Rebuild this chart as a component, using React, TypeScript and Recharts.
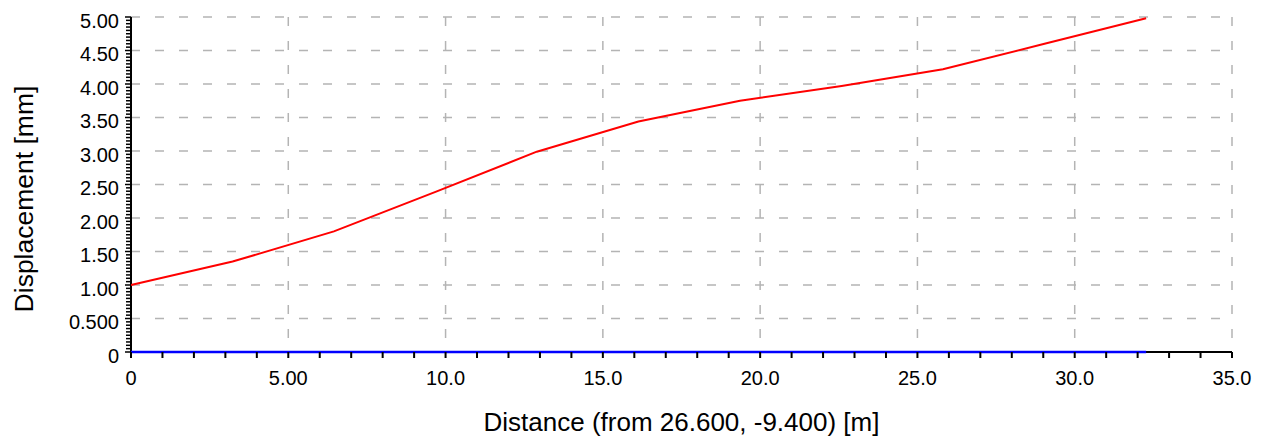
import React from 'react'
import { LineChart, Line, XAxis, YAxis, CartesianGrid, Label } from 'recharts'

const distance = [0, 3.23, 6.45, 9.68, 12.9, 16.13, 19.36, 22.59, 25.81, 29.04, 32.27]
const displacement = [1.0, 1.35, 1.8, 2.39, 2.99, 3.44, 3.75, 3.97, 4.22, 4.6, 4.98]
const reference = [0, 0, 0, 0, 0, 0, 0, 0, 0, 0, 0]

// minor ticks: every 1 m on x, every 0.05 mm on y
const xTicks = Array.from({ length: 36 }, (_, i) => i)
const yTicks = Array.from({ length: 101 }, (_, i) => Math.round(i * 5) / 100)
const xMajor = [0, 5, 10, 15, 20, 25, 30, 35]
const yMajor = [0, 0.5, 1, 1.5, 2, 2.5, 3, 3.5, 4, 4.5, 5]

const data = distance.map((d, i) => ({ x: d, disp: displacement[i], base: reference[i] }))

const FONT = '"Liberation Sans", Arial, sans-serif'

const fmt = (v: number) => (v === 0 ? '0' : v.toPrecision(3))
const isMajor = (v: number, list: number[]) => list.some((m) => Math.abs(m - v) < 1e-6)

const XTick = (props: any) => {
  const { x, y, payload } = props
  const major = isMajor(payload.value, xMajor)
  return (
    <g>
      <line x1={x} x2={x} y1={y} y2={y + 6} stroke="#000" strokeWidth={2} />
      {major && (
        <text x={x} y={y + 33} textAnchor="middle" fontSize={20} fontFamily={FONT} fill="#000">
          {fmt(payload.value)}
        </text>
      )}
    </g>
  )
}

const YTick = (props: any) => {
  const { x, y, payload } = props
  const major = isMajor(payload.value, yMajor)
  return (
    <g>
      <line x1={x - (major ? 6 : 5)} x2={x} y1={y} y2={y} stroke="#000" strokeWidth={1.5} />
      {major && (
        <text x={x - 12} y={y + 10.5} textAnchor="end" fontSize={20} fontFamily={FONT} fill="#000">
          {fmt(payload.value)}
        </text>
      )}
    </g>
  )
}

export default function App() {
  return (
    <div style={{ width: 1248, height: 434 }}>
      <LineChart width={1248} height={434} data={data} margin={{ top: 9, right: 24, left: 0, bottom: 8 }}>
        <CartesianGrid
          stroke="#b4b4b4"
          strokeWidth={1.5}
          strokeDasharray="9 15"
          horizontalValues={yMajor}
          verticalValues={xMajor}
        />
        <XAxis
          type="number"
          dataKey="x"
          domain={[0, 35]}
          ticks={xTicks}
          interval={0}
          tickSize={0}
          tickMargin={0}
          tick={<XTick />}
          height={82}
          stroke="#000"
          strokeWidth={2}
        >
          <Label
            content={({ viewBox }: any) => (
              <text
                x={viewBox.x + viewBox.width / 2}
                y={viewBox.y + 79}
                textAnchor="middle"
                fontSize={26}
                fontFamily={FONT}
                fill="#000"
              >
                Distance (from 26.600, -9.400) [m]
              </text>
            )}
          />
        </XAxis>
        <YAxis
          type="number"
          domain={[0, 5]}
          ticks={yTicks}
          interval={0}
          tickSize={0}
          tickMargin={0}
          tick={<YTick />}
          width={123}
          stroke="#000"
          strokeWidth={2}
        >
          <Label
            content={() => (
              <text
                x={16}
                y={191}
                transform="rotate(-90 16 191)"
                textAnchor="middle"
                dominantBaseline="central"
                fontSize={26.5}
                fontFamily={FONT}
                fill="#000"
              >
                Displacement [mm]
              </text>
            )}
          />
        </YAxis>
        <Line dataKey="disp" stroke="#ff0000" strokeWidth={2} dot={false} isAnimationActive={false} zIndex={600} />
        <Line dataKey="base" stroke="#0000ff" strokeWidth={2.5} dot={false} isAnimationActive={false} zIndex={600} />
      </LineChart>
    </div>
  )
}
